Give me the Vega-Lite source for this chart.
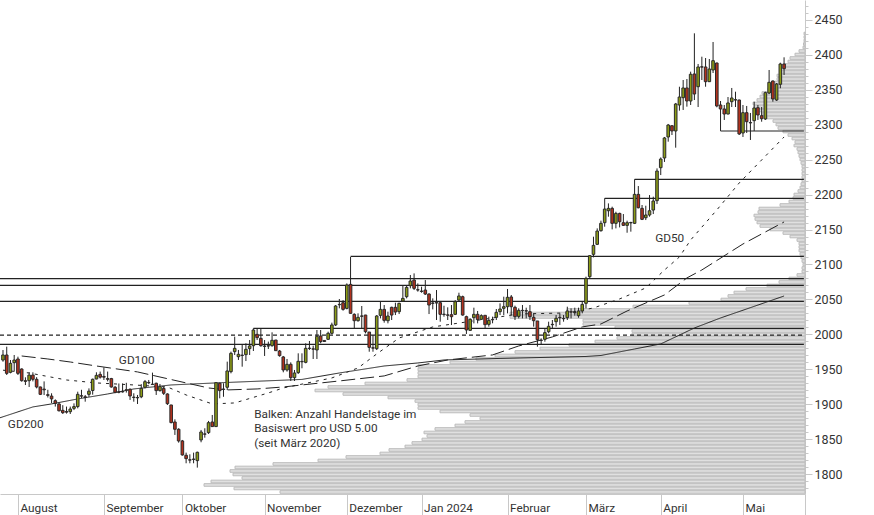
{
"$schema":"https://vega.github.io/schema/vega-lite/v6.json",
"width":805,"height":494,
"autosize":{"type":"none"},
"padding":{"left":0,"top":0,"right":69,"bottom":21},
"background":"white",
"config":{"view":{"stroke":null},"text":{"font":"Roboto"},"axis":{"labelFont":"Roboto"}},
"datasets":{
"candles":[
{"t":0,"o":1963.5,"h":1977.8,"l":1961.1,"c":1970.7},{"t":1,"o":1970.7,"h":1982.6,"l":1942.1,"c":1944.5},{"t":2,"o":1945.9,"h":1963.5,"l":1944.5,"c":1958.8},{"t":3,"o":1959.7,"h":1970.7,"l":1946.9,"c":1963.5},{"t":4,"o":1965,"h":1968.3,"l":1942.1,"c":1944.5},
{"t":5,"o":1950.7,"h":1951.6,"l":1932.6,"c":1934},{"t":6,"o":1934,"h":1938.8,"l":1927.8,"c":1933},{"t":7,"o":1934,"h":1946,"l":1925,"c":1942},{"t":8,"o":1942,"h":1946,"l":1933,"c":1936},{"t":9,"o":1936,"h":1939,"l":1923,"c":1925},
{"t":10,"o":1925,"h":1925.5,"l":1913.5,"c":1914.5},{"t":11,"o":1922,"h":1933,"l":1913.5,"c":1921},{"t":12,"o":1914,"h":1921,"l":1910,"c":1913},{"t":13,"o":1912,"h":1916,"l":1902,"c":1908},{"t":14,"o":1905.4,"h":1907.3,"l":1897,"c":1901.6},
{"t":15,"o":1900.7,"h":1902.6,"l":1890,"c":1891},{"t":16,"o":1891.6,"h":1899,"l":1886.4,"c":1888.3},{"t":17,"o":1890,"h":1897,"l":1887,"c":1889},{"t":18,"o":1889.7,"h":1897,"l":1886.4,"c":1893.5},{"t":19,"o":1894.5,"h":1901.6,"l":1892,"c":1897},
{"t":20,"o":1897,"h":1918.3,"l":1894.5,"c":1914.5},{"t":21,"o":1912.5,"h":1921,"l":1909,"c":1912},{"t":22,"o":1911,"h":1913.5,"l":1904,"c":1910},{"t":23,"o":1914.5,"h":1923,"l":1911,"c":1919},{"t":24,"o":1920,"h":1937,"l":1914,"c":1936},
{"t":25,"o":1936.4,"h":1946,"l":1936,"c":1941.6},{"t":26,"o":1943,"h":1947,"l":1937,"c":1939},{"t":27,"o":1940,"h":1953,"l":1935,"c":1939},{"t":28,"o":1937,"h":1947,"l":1933,"c":1936},{"t":29,"o":1937,"h":1938,"l":1924,"c":1925},
{"t":30,"o":1924.6,"h":1926.5,"l":1916,"c":1917.4},{"t":31,"o":1918,"h":1930,"l":1916,"c":1917.5},{"t":32,"o":1918.5,"h":1930,"l":1917,"c":1918},{"t":33,"o":1921,"h":1931,"l":1917,"c":1920.5},{"t":34,"o":1921.7,"h":1923,"l":1906.5,"c":1912.2},
{"t":35,"o":1910.5,"h":1916,"l":1904,"c":1910},{"t":36,"o":1910,"h":1913.6,"l":1900.7,"c":1909.5},{"t":37,"o":1911,"h":1929,"l":1909,"c":1923},{"t":38,"o":1924.6,"h":1935,"l":1923,"c":1932.6},{"t":39,"o":1931.5,"h":1935,"l":1929,"c":1931},
{"t":40,"o":1928.5,"h":1945.5,"l":1928,"c":1929},{"t":41,"o":1930.3,"h":1931.2,"l":1913.6,"c":1919.8},{"t":42,"o":1919.8,"h":1929.3,"l":1918.4,"c":1925.5},{"t":43,"o":1923,"h":1925.5,"l":1913.6,"c":1916},{"t":44,"o":1915,"h":1916,"l":1899.3,"c":1901.2},
{"t":45,"o":1899.3,"h":1899.5,"l":1873,"c":1874.1},{"t":46,"o":1875,"h":1878.8,"l":1856.5,"c":1864.6},{"t":47,"o":1864.6,"h":1866,"l":1845.5,"c":1847.9},{"t":48,"o":1847.9,"h":1849.3,"l":1826.9,"c":1827.9},{"t":49,"o":1827.4,"h":1831.2,"l":1816,"c":1822.6},
{"t":50,"o":1821,"h":1828.8,"l":1816,"c":1820.5},{"t":51,"o":1822,"h":1831.2,"l":1816,"c":1821.5},{"t":52,"o":1819.8,"h":1832.6,"l":1809.8,"c":1831.7},{"t":53,"o":1849.3,"h":1863.6,"l":1846,"c":1860.7},{"t":54,"o":1858,"h":1866,"l":1852.6,"c":1857.5},
{"t":55,"o":1859.8,"h":1876.5,"l":1857.9,"c":1874},{"t":56,"o":1875,"h":1885,"l":1868,"c":1868.4},{"t":57,"o":1868.4,"h":1931.5,"l":1868,"c":1931.2},{"t":58,"o":1930.3,"h":1931.2,"l":1908.8,"c":1919.8},{"t":59,"o":1922,"h":1930.3,"l":1911,"c":1921.5},
{"t":60,"o":1924.6,"h":1961.2,"l":1920.7,"c":1947.9},{"t":61,"o":1946.9,"h":1975.5,"l":1944.5,"c":1973.1},{"t":62,"o":1975.5,"h":1996.9,"l":1970.7,"c":1980.2},{"t":63,"o":1968.3,"h":1977.9,"l":1963.6,"c":1971.7},{"t":64,"o":1970.5,"h":1985,"l":1954,"c":1970},
{"t":65,"o":1971.2,"h":1987.4,"l":1962.1,"c":1978.8},{"t":66,"o":1979.8,"h":1992.1,"l":1970.7,"c":1983.6},{"t":67,"o":1984,"h":2008.8,"l":1976.4,"c":2006.4},{"t":68,"o":2000.2,"h":2008.8,"l":1992.1,"c":1995.5},{"t":69,"o":1994.5,"h":2008.8,"l":1982.6,"c":1984},
{"t":70,"o":1983.5,"h":1992.1,"l":1969.3,"c":1983},{"t":71,"o":1984,"h":1989.8,"l":1979.3,"c":1983.5},{"t":72,"o":1984,"h":2003.1,"l":1982.6,"c":1991.7},{"t":73,"o":1992.1,"h":1992.2,"l":1976.4,"c":1976.9},{"t":74,"o":1976.4,"h":1977.9,"l":1968.3,"c":1969.8},
{"t":75,"o":1967.9,"h":1969.3,"l":1946,"c":1949.3},{"t":76,"o":1949.3,"h":1965,"l":1946.9,"c":1957.4},{"t":77,"o":1957.4,"h":1960.2,"l":1933.6,"c":1938.3},{"t":78,"o":1938.3,"h":1949.3,"l":1933.6,"c":1945},{"t":79,"o":1945.5,"h":1973.1,"l":1943.6,"c":1961.7},
{"t":80,"o":1961.5,"h":1973.1,"l":1951.7,"c":1961},{"t":81,"o":1960.2,"h":1987.4,"l":1958.8,"c":1980.2},{"t":82,"o":1980.5,"h":1990.7,"l":1977.9,"c":1980},{"t":83,"o":1979.5,"h":1984,"l":1965,"c":1979},{"t":84,"o":1977.9,"h":2006.4,"l":1965,"c":1997.4},
{"t":85,"o":1997.9,"h":2006.4,"l":1987.4,"c":1989.8},{"t":86,"o":1991.5,"h":1992.1,"l":1989.8,"c":1990},{"t":87,"o":1993.1,"h":2004,"l":1992.1,"c":2001.7},{"t":88,"o":2001.7,"h":2016.9,"l":2000.2,"c":2013.6},{"t":89,"o":2013.6,"h":2042.1,"l":2012.1,"c":2040.7},
{"t":90,"o":2043,"h":2050.7,"l":2037.4,"c":2042.5},{"t":91,"o":2045.4,"h":2049.2,"l":2034,"c":2035.9},{"t":92,"o":2037.3,"h":2073,"l":2035.9,"c":2070.7},{"t":93,"o":2071.6,"h":2110.7,"l":2030,"c":2030.2},{"t":94,"o":2028.8,"h":2030.2,"l":2008.8,"c":2019.7},
{"t":95,"o":2019.7,"h":2030.2,"l":2018.3,"c":2024.5},{"t":96,"o":2026.5,"h":2040.7,"l":2008.8,"c":2026},{"t":97,"o":2027.8,"h":2028,"l":2001.6,"c":2004},{"t":98,"o":2003.5,"h":2003.5,"l":1975.4,"c":1981.6},{"t":99,"o":1981,"h":1999.2,"l":1975.4,"c":1980.5},
{"t":100,"o":1979.7,"h":2027.8,"l":1977.8,"c":2026.4},{"t":101,"o":2027.3,"h":2046.9,"l":2023,"c":2035.9},{"t":102,"o":2035.9,"h":2042.1,"l":2016.9,"c":2020.2},{"t":103,"o":2019.7,"h":2032.6,"l":2015.9,"c":2026.4},{"t":104,"o":2038.8,"h":2039.7,"l":2020.7,"c":2027.8},
{"t":105,"o":2038.8,"h":2045.4,"l":2027.8,"c":2032.1},{"t":106,"o":2032.6,"h":2045.4,"l":2029.2,"c":2044.5},{"t":107,"o":2047.8,"h":2069.7,"l":2046.9,"c":2051.6},{"t":108,"o":2054,"h":2070.7,"l":2051.6,"c":2067.3},{"t":109,"o":2069.7,"h":2085,"l":2065.9,"c":2076.4},
{"t":110,"o":2077.8,"h":2087.3,"l":2063.5,"c":2065.9},{"t":111,"o":2064,"h":2073,"l":2061.2,"c":2063.5},{"t":112,"o":2062,"h":2068.3,"l":2059.7,"c":2061.5},{"t":113,"o":2063.5,"h":2077.8,"l":2056.4,"c":2057.8},{"t":114,"o":2057.8,"h":2058.8,"l":2029.2,"c":2042.1},
{"t":115,"o":2045,"h":2051.6,"l":2035.9,"c":2044.5},{"t":116,"o":2045.5,"h":2063.5,"l":2020.7,"c":2045},{"t":117,"o":2045.4,"h":2046.9,"l":2018.3,"c":2028.8},{"t":118,"o":2029,"h":2041.1,"l":2025.4,"c":2028.5},{"t":119,"o":2028,"h":2038.8,"l":2020.7,"c":2027.5},
{"t":120,"o":2028.3,"h":2042.1,"l":2013.5,"c":2025.4},{"t":121,"o":2028.8,"h":2049.2,"l":2027.8,"c":2046.9},{"t":122,"o":2049.2,"h":2059.7,"l":2046.9,"c":2055},{"t":123,"o":2054,"h":2055.5,"l":2026.9,"c":2027.8},{"t":124,"o":2025.5,"h":2026.9,"l":2000.7,"c":2006.4},
{"t":125,"o":2005.9,"h":2023.1,"l":2005,"c":2021.7},{"t":126,"o":2024,"h":2038.3,"l":2015.9,"c":2028.8},{"t":127,"o":2028.8,"h":2033.6,"l":2015.9,"c":2021.2},{"t":128,"o":2021.7,"h":2028.8,"l":2020.7,"c":2026.9},{"t":129,"o":2027.4,"h":2027.4,"l":2007.8,"c":2014},
{"t":130,"o":2014.5,"h":2025.5,"l":2011.2,"c":2020.2},{"t":131,"o":2021.5,"h":2025.5,"l":2016,"c":2021},{"t":132,"o":2024.5,"h":2036.4,"l":2020.7,"c":2031.7},{"t":133,"o":2032.6,"h":2044.5,"l":2027.8,"c":2036.4},{"t":134,"o":2037.4,"h":2054,"l":2027.8,"c":2039.7},
{"t":135,"o":2039.7,"h":2065,"l":2030.2,"c":2053.1},{"t":136,"o":2053.6,"h":2056.4,"l":2027.8,"c":2039.7},{"t":137,"o":2038.8,"h":2041.2,"l":2020.7,"c":2025.5},{"t":138,"o":2025.9,"h":2037.4,"l":2023,"c":2034.5},{"t":139,"o":2034.5,"h":2042.1,"l":2023,"c":2034},
{"t":140,"o":2034,"h":2038.3,"l":2023,"c":2033.5},{"t":141,"o":2032.6,"h":2042.1,"l":2020.7,"c":2025.5},{"t":142,"o":2024.5,"h":2030.2,"l":2011.2,"c":2019.7},{"t":143,"o":2019.3,"h":2019.3,"l":1982.6,"c":1992.6},{"t":144,"o":1992,"h":1994.5,"l":1985,"c":1991.5},
{"t":145,"o":1993.1,"h":2008.8,"l":1989.7,"c":2002.6},{"t":146,"o":2004,"h":2018.3,"l":2001.7,"c":2011.7},{"t":147,"o":2014.5,"h":2020.7,"l":2007.8,"c":2014},{"t":148,"o":2018.3,"h":2027.8,"l":2011.2,"c":2023.1},{"t":149,"o":2024.5,"h":2030.2,"l":2013.6,"c":2024},
{"t":150,"o":2023,"h":2027.8,"l":2018.3,"c":2022.5},{"t":151,"o":2024,"h":2039.7,"l":2020.7,"c":2033.6},{"t":152,"o":2032.5,"h":2037.4,"l":2023,"c":2032},{"t":153,"o":2031.5,"h":2038.3,"l":2026.9,"c":2031},{"t":154,"o":2026.9,"h":2038.3,"l":2024,"c":2033.6},
{"t":155,"o":2033.6,"h":2047.8,"l":2030.2,"c":2043},{"t":156,"o":2044.5,"h":2082.6,"l":2037.3,"c":2080.2},{"t":157,"o":2082.6,"h":2113.5,"l":2080.2,"c":2112.6},{"t":158,"o":2114.5,"h":2139.7,"l":2110.2,"c":2127.3},{"t":159,"o":2128.8,"h":2151.6,"l":2127.8,"c":2147.8},
{"t":160,"o":2148.3,"h":2162.6,"l":2146.9,"c":2158.8},{"t":161,"o":2159.7,"h":2194.6,"l":2154,"c":2179.2},{"t":162,"o":2176.8,"h":2187.3,"l":2168.3,"c":2180.2},{"t":163,"o":2180.2,"h":2182.6,"l":2150.2,"c":2158.8},{"t":164,"o":2158.8,"h":2175.4,"l":2151.6,"c":2173},
{"t":165,"o":2173,"h":2174,"l":2153,"c":2161.1},{"t":166,"o":2159.7,"h":2172.1,"l":2155,"c":2155.9},{"t":167,"o":2155.9,"h":2162.6,"l":2145.4,"c":2159.7},{"t":168,"o":2160,"h":2161.1,"l":2146.9,"c":2159.5},{"t":169,"o":2158.8,"h":2221.7,"l":2157.8,"c":2200.2},
{"t":170,"o":2200.2,"h":2212.1,"l":2180.2,"c":2181.1},{"t":171,"o":2180.2,"h":2185,"l":2163.5,"c":2164.5},{"t":172,"o":2166.8,"h":2184,"l":2163.5,"c":2170.7},{"t":173,"o":2170.7,"h":2199.2,"l":2168.3,"c":2176.8},{"t":174,"o":2177.8,"h":2196.9,"l":2172.1,"c":2190.7},
{"t":175,"o":2191.2,"h":2237.3,"l":2186.4,"c":2233.5},{"t":176,"o":2238.3,"h":2253,"l":2227.8,"c":2250.7},{"t":177,"o":2252.2,"h":2282.2,"l":2246.5,"c":2280.8},{"t":178,"o":2282.2,"h":2300.8,"l":2275.5,"c":2299.3},{"t":179,"o":2298.3,"h":2298.6,"l":2285,"c":2290.8},
{"t":180,"o":2290.8,"h":2330.8,"l":2266.9,"c":2329.3},{"t":181,"o":2327.9,"h":2354,"l":2319.8,"c":2339.3},{"t":182,"o":2338.3,"h":2363.6,"l":2320.8,"c":2352.2},{"t":183,"o":2352.2,"h":2365,"l":2325.5,"c":2333.6},{"t":184,"o":2333.6,"h":2375.5,"l":2327.9,"c":2371.8},
{"t":185,"o":2372.2,"h":2430.3,"l":2335,"c":2343.6},{"t":186,"o":2354,"h":2386.5,"l":2325,"c":2382.2},{"t":187,"o":2382.5,"h":2396.9,"l":2363.6,"c":2382},{"t":188,"o":2382.2,"h":2395,"l":2354,"c":2361.2},{"t":189,"o":2361.2,"h":2393.6,"l":2361,"c":2379.3},
{"t":190,"o":2377.9,"h":2417.9,"l":2373.6,"c":2391.2},{"t":191,"o":2387.9,"h":2388.3,"l":2324.6,"c":2326.5},{"t":192,"o":2327.9,"h":2333.6,"l":2290.8,"c":2322.2},{"t":193,"o":2322.2,"h":2327.9,"l":2306.5,"c":2315},{"t":194,"o":2315,"h":2339.3,"l":2314.5,"c":2330.8},
{"t":195,"o":2332.6,"h":2352.2,"l":2325,"c":2337.9},{"t":196,"o":2335.5,"h":2346.9,"l":2325,"c":2335},{"t":197,"o":2335,"h":2335.5,"l":2285,"c":2286.5},{"t":198,"o":2287.9,"h":2327.9,"l":2282.2,"c":2316.9},{"t":199,"o":2316.9,"h":2326.5,"l":2287.9,"c":2304},
{"t":200,"o":2302.8,"h":2316.5,"l":2277.9,"c":2302.3},{"t":201,"o":2305.5,"h":2332.6,"l":2290.8,"c":2323.6},{"t":202,"o":2324,"h":2327.9,"l":2306.5,"c":2313.6},{"t":203,"o":2312.6,"h":2325,"l":2304,"c":2308.3},{"t":204,"o":2307.9,"h":2346.9,"l":2306.5,"c":2345.5},
{"t":205,"o":2345,"h":2377.9,"l":2343.6,"c":2360.3},{"t":206,"o":2362.2,"h":2362.9,"l":2332.6,"c":2336.5},{"t":207,"o":2335,"h":2359.3,"l":2333.6,"c":2357.9},{"t":208,"o":2357.5,"h":2388.3,"l":2351.8,"c":2386.5},{"t":209,"o":2386.5,"h":2396,"l":2370.8,"c":2379.8}
],
"profil":[
{"p":2430,"n":0.1},{"p":2425,"n":0.1},{"p":2420,"n":0.1},{"p":2415,"n":0.15},{"p":2410,"n":0.2},{"p":2405,"n":0.6},{"p":2400,"n":1},{"p":2395,"n":1.5},{"p":2390,"n":1.7},{"p":2385,"n":2},
{"p":2380,"n":2.2},{"p":2375,"n":2.5},{"p":2370,"n":2.8},{"p":2365,"n":2.8},{"p":2360,"n":3},{"p":2355,"n":3},{"p":2350,"n":3.7},{"p":2345,"n":4.3},{"p":2340,"n":4.5},{"p":2335,"n":4.8},
{"p":2330,"n":5.2},{"p":2325,"n":5.1},{"p":2320,"n":4.8},{"p":2315,"n":4.3},{"p":2310,"n":3.8},{"p":2305,"n":3.2},{"p":2300,"n":2.9},{"p":2295,"n":2.7},{"p":2290,"n":2.2},{"p":2285,"n":1.7},
{"p":2280,"n":1.3},{"p":2275,"n":1},{"p":2270,"n":1.1},{"p":2265,"n":0.8},{"p":2260,"n":0.7},{"p":2255,"n":0.6},{"p":2250,"n":0.5},{"p":2245,"n":0.4},{"p":2240,"n":0.3},{"p":2235,"n":0.3},
{"p":2230,"n":0.3},{"p":2225,"n":0.3},{"p":2220,"n":0.3},{"p":2215,"n":0.4},{"p":2210,"n":0.5},{"p":2205,"n":0.7},{"p":2200,"n":1.1},{"p":2195,"n":1.2},{"p":2190,"n":1.6},{"p":2185,"n":2.5},
{"p":2180,"n":4.6},{"p":2175,"n":4.7},{"p":2170,"n":5.1},{"p":2165,"n":5},{"p":2160,"n":4.8},{"p":2155,"n":4.5},{"p":2150,"n":3.5},{"p":2145,"n":2.2},{"p":2140,"n":1.5},{"p":2135,"n":0.8},
{"p":2130,"n":0.6},{"p":2125,"n":0.6},{"p":2120,"n":0.6},{"p":2115,"n":0.5},{"p":2110,"n":0.4},{"p":2105,"n":0.3},{"p":2100,"n":0.2},{"p":2095,"n":0.3},{"p":2090,"n":0.3},{"p":2085,"n":0.8},
{"p":2080,"n":1.6},{"p":2075,"n":2.6},{"p":2070,"n":3.8},{"p":2065,"n":5.9},{"p":2060,"n":7.1},{"p":2055,"n":7.7},{"p":2050,"n":8.4},{"p":2045,"n":11.6},{"p":2040,"n":17.2},{"p":2035,"n":23.8},
{"p":2030,"n":29.5},{"p":2025,"n":29.5},{"p":2020,"n":22.2},{"p":2015,"n":22.2},{"p":2010,"n":19},{"p":2005,"n":17.3},{"p":2000,"n":17.3},{"p":1995,"n":18.8},{"p":1990,"n":21},{"p":1985,"n":23.6},
{"p":1980,"n":26.5},{"p":1975,"n":29},{"p":1970,"n":31},{"p":1965,"n":32.9},{"p":1960,"n":35.5},{"p":1955,"n":38.7},{"p":1950,"n":38.7},{"p":1945,"n":38.7},{"p":1940,"n":38.7},{"p":1935,"n":39.8},
{"p":1930,"n":44},{"p":1925,"n":47.7},{"p":1920,"n":49},{"p":1915,"n":46.2},{"p":1910,"n":41.7},{"p":1905,"n":39},{"p":1900,"n":38.7},{"p":1895,"n":38.7},{"p":1890,"n":36.5},{"p":1885,"n":33.5},
{"p":1880,"n":32.5},{"p":1875,"n":34},{"p":1870,"n":35},{"p":1865,"n":37},{"p":1860,"n":38.1},{"p":1855,"n":37.8},{"p":1850,"n":38.3},{"p":1845,"n":39.3},{"p":1840,"n":40},{"p":1835,"n":41.6},
{"p":1830,"n":42.5},{"p":1825,"n":45.9},{"p":1820,"n":48.7},{"p":1815,"n":53.2},{"p":1810,"n":57},{"p":1805,"n":57.5},{"p":1800,"n":57.2},{"p":1795,"n":56.3},{"p":1790,"n":59.4},{"p":1785,"n":60.1},
{"p":1780,"n":57.1},{"p":1775,"n":52.5}
],
"niveaus":[
{"von":93,"bis":214.3,"p":2111.6,"art":"voll"},
{"von":-0.8,"bis":214.3,"p":2079.8,"art":"voll"},
{"von":-0.8,"bis":214.3,"p":2070.3,"art":"voll"},
{"von":-0.8,"bis":214.3,"p":2047.4,"art":"voll"},
{"von":67,"bis":214.3,"p":2008.8,"art":"voll"},
{"von":-0.8,"bis":214.3,"p":1999,"art":"gestrichelt"},
{"von":-0.8,"bis":214.3,"p":1986,"art":"voll"},
{"von":161,"bis":214.3,"p":2194.6,"art":"voll"},
{"von":169,"bis":214.3,"p":2221.7,"art":"voll"},
{"von":192,"bis":214.3,"p":2290.7,"art":"voll"}
],
"gd":[
{"gd":"GD200","t":-0.8,"p":1881},{"gd":"GD200","t":8,"p":1896.5},{"gd":"GD200","t":13,"p":1900.8},{"gd":"GD200","t":20,"p":1907.9},{"gd":"GD200","t":28,"p":1915},{"gd":"GD200","t":35,"p":1922.2},{"gd":"GD200","t":45,"p":1927.9},{"gd":"GD200","t":57,"p":1930.8},{"gd":"GD200","t":80,"p":1935.8},{"gd":"GD200","t":90,"p":1945},{"gd":"GD200","t":102,"p":1955},{"gd":"GD200","t":111,"p":1959.3},{"gd":"GD200","t":118,"p":1963.6},{"gd":"GD200","t":133,"p":1965.8},{"gd":"GD200","t":156,"p":1968.6},{"gd":"GD200","t":160,"p":1970},{"gd":"GD200","t":169,"p":1979.3},{"gd":"GD200","t":176,"p":1986.5},{"gd":"GD200","t":185,"p":2009.3},{"gd":"GD200","t":192,"p":2023.6},{"gd":"GD200","t":199,"p":2036.5},{"gd":"GD200","t":209,"p":2055},
{"gd":"GD100","t":5,"p":1969.3},{"gd":"GD100","t":12,"p":1965},{"gd":"GD100","t":18,"p":1960.7},{"gd":"GD100","t":25,"p":1955},{"gd":"GD100","t":36,"p":1946.5},{"gd":"GD100","t":49,"p":1930.8},{"gd":"GD100","t":55,"p":1923.6},{"gd":"GD100","t":60,"p":1920.8},{"gd":"GD100","t":68,"p":1922.2},{"gd":"GD100","t":75,"p":1925},{"gd":"GD100","t":80,"p":1927.9},{"gd":"GD100","t":90,"p":1933.6},{"gd":"GD100","t":102,"p":1940.8},{"gd":"GD100","t":111,"p":1955},{"gd":"GD100","t":119,"p":1963.6},{"gd":"GD100","t":131,"p":1970.8},{"gd":"GD100","t":138,"p":1983.6},{"gd":"GD100","t":147,"p":1996.5},{"gd":"GD100","t":155,"p":2010.8},{"gd":"GD100","t":160,"p":2015},{"gd":"GD100","t":167,"p":2033.6},{"gd":"GD100","t":177,"p":2056.5},{"gd":"GD100","t":183,"p":2080.8},{"gd":"GD100","t":187,"p":2092.2},{"gd":"GD100","t":198,"p":2129.3},{"gd":"GD100","t":209,"p":2160.8},
{"gd":"GD50","t":0,"p":1949},{"gd":"GD50","t":7,"p":1945},{"gd":"GD50","t":17,"p":1935},{"gd":"GD50","t":25,"p":1930.8},{"gd":"GD50","t":35,"p":1927.9},{"gd":"GD50","t":44,"p":1925},{"gd":"GD50","t":49,"p":1913.6},{"gd":"GD50","t":56,"p":1900.8},{"gd":"GD50","t":62,"p":1902.2},{"gd":"GD50","t":71,"p":1916.5},{"gd":"GD50","t":75,"p":1923.6},{"gd":"GD50","t":88,"p":1937.9},{"gd":"GD50","t":95,"p":1952.2},{"gd":"GD50","t":100,"p":1972.2},{"gd":"GD50","t":106,"p":1995},{"gd":"GD50","t":115,"p":2010.8},{"gd":"GD50","t":124,"p":2017.9},{"gd":"GD50","t":138,"p":2029.3},{"gd":"GD50","t":151,"p":2030.8},{"gd":"GD50","t":158,"p":2037.9},{"gd":"GD50","t":165,"p":2050.8},{"gd":"GD50","t":172,"p":2066.5},{"gd":"GD50","t":177,"p":2092.2},{"gd":"GD50","t":181,"p":2110.8},{"gd":"GD50","t":184,"p":2135},{"gd":"GD50","t":191,"p":2177.9},{"gd":"GD50","t":197,"p":2216.5},{"gd":"GD50","t":209,"p":2282.2}
],
"texte":[
{"t":31,"p":1963.6,"text":"GD100"},
{"t":1.3,"p":1872.2,"text":"GD200"},
{"t":174.5,"p":2137.9,"text":"GD50"},
{"t":67.2,"p":1886.5,"text":"Balken: Anzahl Handelstage im"},
{"t":67.2,"p":1866.4,"text":"Basiswert pro USD 5.00"},
{"t":67.2,"p":1845.5,"text":"(seit März 2020)"}
]
},
"layer":[
{
"data":{"name":"profil"},
"mark":{"type":"bar","orient":"horizontal","size":2.6,"fill":"#e0e0e0","stroke":"#bcbcbc","strokeWidth":1},
"encoding":{
"x":{"field":"n","type":"quantitative","stack":null,"axis":null,"scale":{"domain":[0,80.5],"reverse":true,"nice":false,"zero":false,"padding":0}},
"y":{"field":"p","type":"quantitative","scale":{"domain":[1772.1,2477.9],"nice":false,"zero":false,"padding":0},
"axis":{"title":null,"orient":"right","grid":false,
"values":[1800,1850,1900,1950,2000,2050,2100,2150,2200,2250,2300,2350,2400,2450],
"format":"d","tickSize":7,
"domainColor":"#c8c8c8","tickColor":"#c8c8c8","labelAlign":"left","labelPadding":2,"labelOverlap":false,"labelBound":false,"labelColor":"#333333","labelFontSize":12.5}}
}
},
{
"data":{"name":"niveaus"},
"mark":{"type":"rule","color":"#222222","strokeWidth":1.2},
"encoding":{
"x":{"field":"von","type":"quantitative","axis":null,"scale":{"domain":[-0.8,214.6],"nice":false,"zero":false,"padding":0}},
"x2":{"field":"bis"},
"y":{"field":"p","type":"quantitative","scale":{"domain":[1772.1,2477.9],"nice":false,"zero":false,"padding":0},
"axis":{"title":null,"orient":"right","grid":false,"labels":false,"domain":false,"tickSize":3,"tickColor":"#c8c8c8",
"values":[1780,1790,1810,1820,1830,1840,1860,1870,1880,1890,1910,1920,1930,1940,1960,1970,1980,1990,2010,2020,2030,2040,2060,2070,2080,2090,2110,2120,2130,2140,2160,2170,2180,2190,2210,2220,2230,2240,2260,2270,2280,2290,2310,2320,2330,2340,2360,2370,2380,2390,2410,2420,2430,2440,2460,2470]}},
"strokeDash":{"field":"art","type":"nominal","legend":null,"scale":{"domain":["voll","gestrichelt","GD200","GD100","GD50"],"range":[[1,0],[4,3],[1,0],[14,5],[3,5]]}}
}
},
{
"data":{"name":"gd"},
"mark":{"type":"line","color":"#222222","strokeWidth":1,"clip":true},
"encoding":{
"x":{"field":"t","type":"quantitative","axis":null,"scale":{"domain":[-0.8,214.6],"nice":false,"zero":false,"padding":0}},
"y":{"field":"p","type":"quantitative","axis":null,"scale":{"domain":[1772.1,2477.9],"nice":false,"zero":false,"padding":0}},
"strokeDash":{"field":"gd","type":"nominal","legend":null,"scale":{"domain":["voll","gestrichelt","GD200","GD100","GD50"],"range":[[1,0],[4,3],[1,0],[14,5],[3,5]]}}
}
},
{
"data":{"name":"candles"},
"mark":{"type":"rule","color":"#222222","strokeWidth":1},
"encoding":{
"x":{"field":"t","type":"quantitative","scale":{"domain":[-0.8,214.6],"nice":false,"zero":false,"padding":0},
"axis":{"title":null,"grid":false,"values":[4,27,48,70,92,112,135,156,176,198,214.6],
"labelExpr":"['August','September','Oktober','November','Dezember','Jan 2024','Februar','März','April','Mai',''][indexof([4,27,48,70,92,112,135,156,176,198,214.6],datum.value)]",
"domainColor":"#c8c8c8","tickColor":"#c8c8c8","tickSize":21,"labelAlign":"left","labelBaseline":"middle","labelPadding":-8,"labelOffset":2,"labelFlush":false,"labelBound":false,"labelOverlap":false,"labelColor":"#333333","labelFontSize":11.8}},
"y":{"field":"l","type":"quantitative","axis":null,"scale":{"domain":[1772.1,2477.9],"nice":false,"zero":false,"padding":0}},
"y2":{"field":"h"}
}
},
{
"data":{"name":"candles"},
"mark":{"type":"bar","orient":"vertical","size":2.6,"stroke":"#2a2a2a","strokeWidth":1},
"encoding":{
"x":{"field":"t","type":"quantitative","axis":null,"scale":{"domain":[-0.8,214.6],"nice":false,"zero":false,"padding":0}},
"y":{"field":"o","type":"quantitative","axis":null,"scale":{"domain":[1772.1,2477.9],"nice":false,"zero":false,"padding":0}},
"y2":{"field":"c"},
"fill":{"condition":{"test":"datum.c >= datum.o","value":"#8c9c16"},"value":"#b3321e"}
}
},
{
"data":{"name":"texte"},
"mark":{"type":"text","align":"left","baseline":"middle","fontSize":11.8,"color":"#333333","font":"Roboto"},
"encoding":{
"x":{"field":"t","type":"quantitative","axis":null,"scale":{"domain":[-0.8,214.6],"nice":false,"zero":false,"padding":0}},
"y":{"field":"p","type":"quantitative","axis":null,"scale":{"domain":[1772.1,2477.9],"nice":false,"zero":false,"padding":0}},
"text":{"field":"text"}
}
}
],
"resolve":{"scale":{"x":"independent"},"axis":{"y":"independent"}}
}
